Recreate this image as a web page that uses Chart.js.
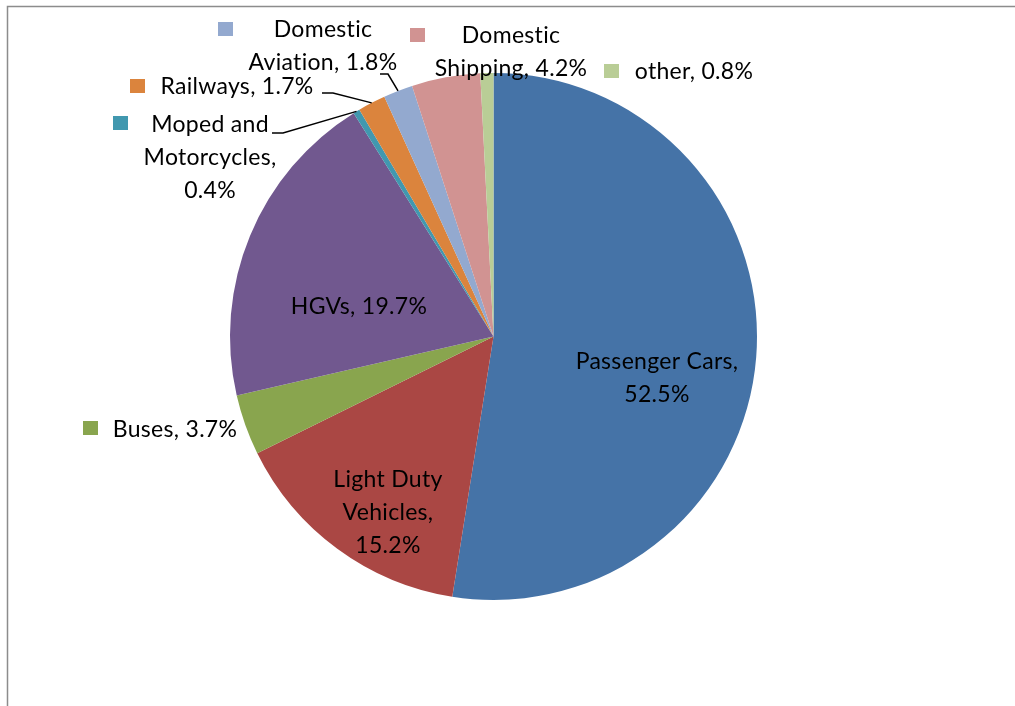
<!DOCTYPE html>
<html>
<head>
<meta charset="utf-8">
<script src="https://cdn.jsdelivr.net/npm/chart.js@4.4.1/dist/chart.umd.min.js"></script>
<style>
  html, body { margin: 0; padding: 0; background: #fff; }
  #wrap { width: 1015px; height: 706px; position: relative; }
</style>
</head>
<body>
<div id="wrap"><canvas id="chart" width="1015" height="706"></canvas></div>
<script>
var categories = ['Passenger Cars', 'Light Duty Vehicles', 'Buses', 'HGVs', 'Moped and Motorcycles',
    'Railways', 'Domestic Aviation', 'Domestic Shipping', 'other'];
var shares = [52.5, 15.2, 3.7, 19.7, 0.4, 1.7, 1.8, 4.2, 0.8];
var colors = ['#4573A7', '#AA4744', '#89A54E', '#71588F', '#4198AF', '#DB843D', '#93A9CF', '#D19392', '#B9CD96'];

// label text lines, centre x and first line y; key = [x, y] of the small legend square
var labelLayout = [
    { lines: ['Passenger Cars,', '52.5%'], x: 657, y: 362 },
    { lines: ['Light Duty', 'Vehicles,', '15.2%'], x: 388, y: 480 },
    { lines: ['Buses, 3.7%'], x: 175, y: 430, key: [83, 421] },
    { lines: ['HGVs, 19.7%'], x: 359, y: 307 },
    { lines: ['Moped and', 'Motorcycles,', '0.4%'], x: 210, y: 125, key: [113, 116], leader: [[272, 133], [283, 133]] },
    { lines: ['Railways, 1.7%'], x: 237, y: 87, key: [130, 79], leader: [[322, 93], [333, 93]] },
    { lines: ['Domestic', 'Aviation, 1.8%'], x: 323, y: 30, key: [218, 22], leader: [[380, 74], [388, 74]] },
    { lines: ['Domestic', 'Shipping, 4.2%'], x: 511, y: 36, key: [410, 28] },
    { lines: ['other, 0.8%'], x: 694, y: 72, key: [604, 64] }
];
var lineGap = 33;

var framePlugin = {
    id: 'frame',
    beforeDraw: function(chart) {
        var ctx = chart.ctx;
        ctx.save();
        ctx.fillStyle = '#fff';
        ctx.fillRect(0, 0, chart.width, chart.height);
        ctx.strokeStyle = '#8c8c8c';
        ctx.lineWidth = 1.5;
        ctx.beginPath();
        ctx.moveTo(7.5, chart.height);
        ctx.lineTo(7.5, 6.5);
        ctx.lineTo(chart.width, 6.5);
        ctx.stroke();
        ctx.restore();
    }
};

var labelPlugin = {
    id: 'sliceLabels',
    afterDatasetsDraw: function(chart) {
        var ctx = chart.ctx;
        var arcs = chart.getDatasetMeta(0).data;
        ctx.save();
        ctx.font = '23px Lato, "Open Sans", sans-serif';
        ctx.letterSpacing = '0.3px';
        ctx.textBaseline = 'middle';
        ctx.textAlign = 'center';
        labelLayout.forEach(function(lab, i) {
            ctx.fillStyle = '#000';
            lab.lines.forEach(function(t, j) {
                ctx.fillText(t, lab.x, lab.y + j * lineGap);
            });
            if (lab.key) {
                ctx.fillStyle = colors[i];
                ctx.fillRect(lab.key[0], lab.key[1], 15, 14);
            }
            if (lab.leader) {
                var a = arcs[i];
                var mid = (a.startAngle + a.endAngle) / 2;
                var ex = a.x + Math.cos(mid) * a.outerRadius;
                var ey = a.y + Math.sin(mid) * a.outerRadius;
                ctx.strokeStyle = '#000';
                ctx.lineWidth = 1.5;
                ctx.beginPath();
                ctx.moveTo(lab.leader[0][0], lab.leader[0][1]);
                ctx.lineTo(lab.leader[1][0], lab.leader[1][1]);
                ctx.lineTo(ex, ey);
                ctx.stroke();
            }
        });
        ctx.restore();
    }
};

var ctx = document.getElementById('chart').getContext('2d');
var chart = new Chart(ctx, {
    type: 'pie',
    data: {
        labels: categories,
        datasets: [{
            data: shares,
            backgroundColor: colors,
            borderWidth: 0
        }]
    },
    options: {
        responsive: false,
        animation: false,
        layout: { padding: { top: 73, bottom: 106, left: 0, right: 28 } },
        plugins: {
            legend: { display: false },
            tooltip: { enabled: false }
        }
    },
    plugins: [framePlugin, labelPlugin]
});
</script>
</body>
</html>
